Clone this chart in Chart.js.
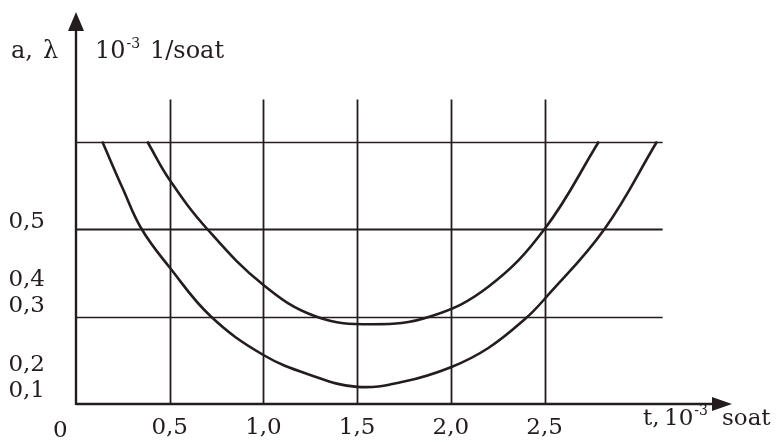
<!DOCTYPE html>
<html>
<head>
<meta charset="utf-8">
<script src="https://cdn.jsdelivr.net/npm/chart.js@4.4.1/dist/chart.umd.min.js"></script>
<style>
  html, body { margin: 0; padding: 0; background: #ffffff; }
  #wrap { width: 779px; height: 442px; position: relative; }
</style>
</head>
<body>
<div id="wrap"><canvas id="c" width="779" height="442"></canvas></div>
<script>
// ---- data ----
const lowerCurveT = [0.14, 0.25, 0.35, 0.50, 0.72, 1.00, 1.25, 1.50, 1.75, 2.00, 2.20, 2.40, 2.50, 2.82, 3.10];
const lowerCurveV = [0.75, 0.615, 0.50, 0.39, 0.25, 0.14, 0.083, 0.049, 0.064, 0.105, 0.16, 0.245, 0.30, 0.50, 0.75];

const upperCurveT = [0.38, 0.50, 0.70, 1.00, 1.28, 1.58, 1.89, 2.20, 2.50, 2.79];
const upperCurveV = [0.75, 0.64, 0.50, 0.34, 0.25, 0.228, 0.25, 0.335, 0.50, 0.75];

const xTickValues = [0.5, 1.0, 1.5, 2.0, 2.5];
const xTickLabels = ['0,5', '1,0', '1,5', '2,0', '2,5'];
const yTickValues = [0.036, 0.11, 0.28, 0.355, 0.52];
const yTickLabels = ['0,1', '0,2', '0,3', '0,4', '0,5'];

const gridXValues = [0.5, 1.0, 1.5, 2.0, 2.5];
const gridYValues = [0.25, 0.5, 0.75];
const gridXTop = 0.87;
const gridYRight = 3.13;

const xMax = 3.5;
const yMax = 1.12;

// ---- styling ----
const INK = '#241c1d';
const FONT = '"DejaVu Serif", "Liberation Serif", serif';
const FSIZE = 23;

function pts(xs, ys) { return xs.map((x, i) => ({ x: x, y: ys[i] })); }

const decor = {
  id: 'decor',
  beforeDatasetsDraw(chart) {
    const ctx = chart.ctx;
    const xs = chart.scales.x, ys = chart.scales.y;
    const x0 = xs.getPixelForValue(0), y0 = ys.getPixelForValue(0);
    ctx.save();
    ctx.strokeStyle = INK;
    ctx.lineCap = 'butt';
    // vertical grid lines
    ctx.lineWidth = 1.8;
    gridXValues.forEach(v => {
      const px = Math.round(xs.getPixelForValue(v)) + 0.5;
      ctx.beginPath();
      ctx.moveTo(px, ys.getPixelForValue(gridXTop));
      ctx.lineTo(px, y0);
      ctx.stroke();
    });
    // horizontal grid lines
    gridYValues.forEach(v => {
      const py = Math.round(ys.getPixelForValue(v)) + 0.5;
      ctx.lineWidth = (v === 0.5) ? 2.2 : 1.4;
      ctx.beginPath();
      ctx.moveTo(x0, py);
      ctx.lineTo(xs.getPixelForValue(gridYRight), py);
      ctx.stroke();
    });
    // axes
    ctx.lineWidth = 2.4;
    const tipX = xs.getPixelForValue(xMax);
    const tipY = ys.getPixelForValue(yMax);
    ctx.beginPath();
    ctx.moveTo(x0, y0);
    ctx.lineTo(tipX - 10, y0);
    ctx.moveTo(x0, y0 + 1);
    ctx.lineTo(x0, tipY + 10);
    ctx.stroke();
    ctx.fillStyle = INK;
    // x arrow
    ctx.beginPath();
    ctx.moveTo(tipX, y0);
    ctx.lineTo(tipX - 20, y0 - 7);
    ctx.lineTo(tipX - 20, y0 + 7);
    ctx.closePath();
    ctx.fill();
    // y arrow
    ctx.beginPath();
    ctx.moveTo(x0, tipY);
    ctx.lineTo(x0 - 8, tipY + 19);
    ctx.lineTo(x0 + 8, tipY + 19);
    ctx.closePath();
    ctx.fill();
    ctx.restore();
  },
  afterDraw(chart) {
    const ctx = chart.ctx;
    const xs = chart.scales.x, ys = chart.scales.y;
    const x0 = xs.getPixelForValue(0), y0 = ys.getPixelForValue(0);
    ctx.save();
    ctx.fillStyle = INK;
    ctx.textBaseline = 'alphabetic';
    ctx.textAlign = 'left';
    const big = FSIZE + 'px ' + FONT;
    const title = '24px ' + FONT;
    const small = '14px ' + FONT;
    // origin label
    ctx.font = big;
    ctx.fillText('0', x0 - 23, y0 + 33);
    // y axis title
    ctx.font = title;
    ctx.fillText('a,', 11, 58);
    ctx.fillText('λ', 43, 58);
    ctx.fillText('10', 95, 58);
    let w = ctx.measureText('10').width;
    ctx.font = small;
    ctx.fillText('-3', 95 + w + 1, 48);
    ctx.font = title;
    ctx.fillText('1/soat', 150, 58);
    // x axis title
    ctx.font = big;
    ctx.fillText('t,', 643, 425);
    ctx.fillText('10', 664, 425);
    w = ctx.measureText('10').width;
    ctx.font = small;
    ctx.fillText('-3', 664 + w + 1, 415);
    ctx.font = big;
    ctx.fillText('soat', 722, 425);
    ctx.restore();
  }
};

new Chart(document.getElementById('c'), {
  type: 'line',
  data: {
    datasets: [
      {
        label: 'lower',
        data: pts(lowerCurveT, lowerCurveV),
        borderColor: INK,
        borderWidth: 2.6,
        pointRadius: 0,
        fill: false,
        tension: 0.4
      },
      {
        label: 'upper',
        data: pts(upperCurveT, upperCurveV),
        borderColor: INK,
        borderWidth: 2.6,
        pointRadius: 0,
        fill: false,
        tension: 0.4
      }
    ]
  },
  options: {
    responsive: false,
    animation: false,
    devicePixelRatio: 1,
    layout: { padding: { top: 12, right: 47, left: 0, bottom: 0 } },
    plugins: { legend: { display: false }, tooltip: { enabled: false } },
    scales: {
      x: {
        type: 'linear',
        min: 0,
        max: xMax,
        grid: { display: false, drawTicks: false },
        border: { display: false },
        afterBuildTicks: s => { s.ticks = xTickValues.map(v => ({ value: v })); },
        afterFit: s => { s.height = 38; s.paddingLeft = 0; s.paddingRight = 0; },
        ticks: {
          autoSkip: false,
          maxRotation: 0,
          padding: 10,
          color: INK,
          font: { family: FONT, size: FSIZE },
          callback: v => { const i = xTickValues.indexOf(v); return i >= 0 ? xTickLabels[i] : ''; }
        }
      },
      y: {
        type: 'linear',
        min: 0,
        max: yMax,
        grid: { display: false, drawTicks: false },
        border: { display: false },
        afterBuildTicks: s => { s.ticks = yTickValues.map(v => ({ value: v })); },
        afterFit: s => { s.width = 76; s.paddingTop = 0; s.paddingBottom = 0; },
        ticks: {
          autoSkip: false,
          padding: 31,
          color: INK,
          font: { family: FONT, size: FSIZE },
          callback: v => { const i = yTickValues.indexOf(v); return i >= 0 ? yTickLabels[i] : ''; }
        }
      }
    }
  },
  plugins: [decor]
});
</script>
</body>
</html>
